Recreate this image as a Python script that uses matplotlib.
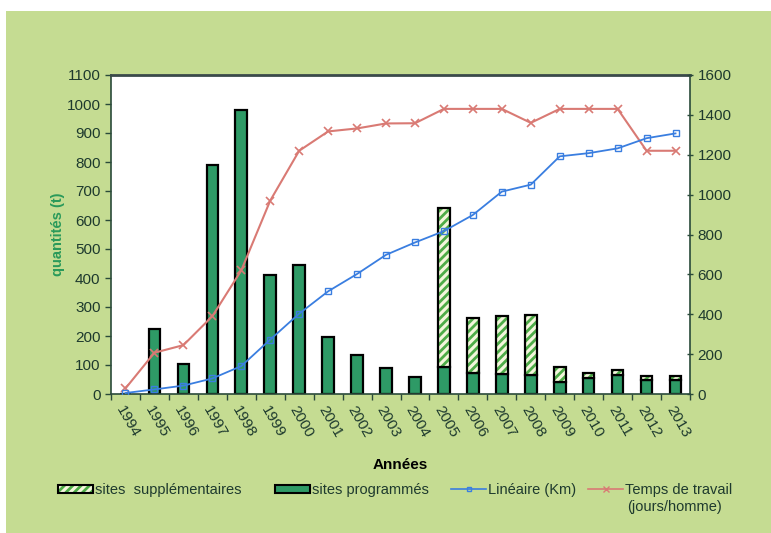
import matplotlib
matplotlib.use("Agg")
import matplotlib.pyplot as plt
import numpy as np
from matplotlib.patches import Rectangle, Patch
from matplotlib.lines import Line2D

plt.rcParams['font.family'] = ['Liberation Sans', 'DejaVu Sans']
plt.rcParams['hatch.linewidth'] = 2.0

years = ['1994', '1995', '1996', '1997', '1998', '1999', '2000', '2001', '2002', '2003',
         '2004', '2005', '2006', '2007', '2008', '2009', '2010', '2011', '2012', '2013']
sites_programmes = [0, 225, 102, 788, 978, 410, 446, 196, 135, 90,
                    60, 93, 73, 68, 65, 43, 54, 66, 48, 48]
sites_supplementaires = [0, 0, 0, 0, 0, 0, 0, 0, 0, 0,
                         0, 550, 190, 202, 208, 50, 20, 16, 14, 14]
lineaire_km = [5, 23, 42, 78, 140, 273, 403, 515, 602, 698,
               760, 817, 898, 1015, 1050, 1192, 1208, 1232, 1283, 1307]
temps_travail = [28, 207, 245, 390, 620, 970, 1220, 1317, 1332, 1357,
                 1358, 1430, 1430, 1430, 1360, 1430, 1430, 1430, 1220, 1220]

GREEN_BG = '#c5dc92'
BAR_GREEN = '#2e9a66'
HATCH_GREEN = '#4eac48'
HATCH_BG = '#f4f6dc'
BLUE = '#3a7ee0'
RED = '#d97a74'
TXT = '#1e3a2e'

fig = plt.figure(figsize=(7.71, 5.33), dpi=100)
fig.patch.set_facecolor('white')
fig.patches.append(Rectangle((6 / 771, 0), 1, (533 - 11) / 533, transform=fig.transFigure,
                             facecolor=GREEN_BG, edgecolor='none', zorder=-10))

ax = fig.add_axes([111 / 771, (533 - 394) / 533, (690 - 111) / 771, (394 - 75) / 533])
ax.set_facecolor('white')
x = np.arange(len(years))
w = 0.4

ax.bar(x, sites_programmes, w, color=BAR_GREEN, edgecolor='black', linewidth=1.6, zorder=2)
ax.bar(x, sites_supplementaires, w, bottom=sites_programmes, facecolor=HATCH_BG,
       edgecolor=HATCH_GREEN, hatch='////', linewidth=0, zorder=2)
sup_idx = [i for i, v in enumerate(sites_supplementaires) if v > 0]
ax.bar(x[sup_idx], [sites_supplementaires[i] for i in sup_idx], w,
       bottom=[sites_programmes[i] for i in sup_idx], facecolor='none',
       edgecolor='black', linewidth=1.6, zorder=3)

ax.set_xlim(-0.5, len(years) - 0.5)
ax.set_ylim(0, 1100)
ax.set_yticks(np.arange(0, 1101, 100))
ax.set_xticks(x)
ax.set_xticklabels(years, rotation=-60, ha='left', va='top', rotation_mode='anchor',
                   fontsize=11, color=TXT)
ax.set_xticks(np.arange(-0.5, len(years)), minor=True)
ax.tick_params(axis='x', which='major', length=0, pad=7)
ax.tick_params(axis='x', which='minor', length=4, color='#2a4a3a', width=1)
ax.tick_params(axis='y', labelsize=11, labelcolor=TXT, length=4, color='#2a4a3a', width=1)
for s in ax.spines.values():
    s.set_color('#2a4a3a')
    s.set_linewidth(1.2)
ax.spines['top'].set_color('#3a4a4a')
ax.spines['top'].set_linewidth(2)

ax.set_ylabel('quantités (t)', color='#2a9a5a', fontweight='bold', fontsize=10.5, labelpad=1)
ax.set_xlabel('Années', fontweight='bold', fontsize=11, color='black', labelpad=13)

ax2 = ax.twinx()
ax2.set_ylim(0, 1600)
ax2.set_yticks(np.arange(0, 1601, 200))
ax2.tick_params(axis='y', labelsize=11, labelcolor=TXT, length=4, color='#2a4a3a',
                width=1, direction='inout')
ax2.plot(x, temps_travail, color=RED, lw=1.5, marker='x', ms=6, mew=1.2, zorder=4)
ax2.plot(x, lineaire_km, color=BLUE, lw=1.3, marker='s', ms=4, mfc='none', mec=BLUE,
         mew=1, zorder=5)
for s in ax2.spines.values():
    s.set_visible(False)

entries = [
    ((Patch(facecolor=HATCH_BG, edgecolor=HATCH_GREEN, hatch='////', linewidth=0),
      Patch(facecolor='none', edgecolor='black', linewidth=1.5)),
     'sites  supplémentaires', 58),
    (Patch(facecolor=BAR_GREEN, edgecolor='black', linewidth=1.5), 'sites programmés', 275),
    (Line2D([], [], color=BLUE, marker='s', ms=3, mfc='none', lw=1.2), 'Linéaire (Km)', 451),
    (Line2D([], [], color=RED, marker='x', ms=5, lw=1.2), 'Temps de travail', 588),
]
for h, lab, px in entries:
    leg = fig.legend([h], [lab], loc='upper left', bbox_to_anchor=(px / 771, 1 - 483 / 533),
                     frameon=False, fontsize=10.5, handlelength=2.4, handleheight=0.5,
                     handletextpad=0.15, borderaxespad=0, borderpad=0)
    for t in leg.get_texts():
        t.set_color(TXT)
fig.text(627 / 771, 1 - 507 / 533, '(jours/homme)', fontsize=10.5, color=TXT,
         ha='left', va='center')

fig.savefig('out.png', dpi=100, facecolor=fig.get_facecolor())
